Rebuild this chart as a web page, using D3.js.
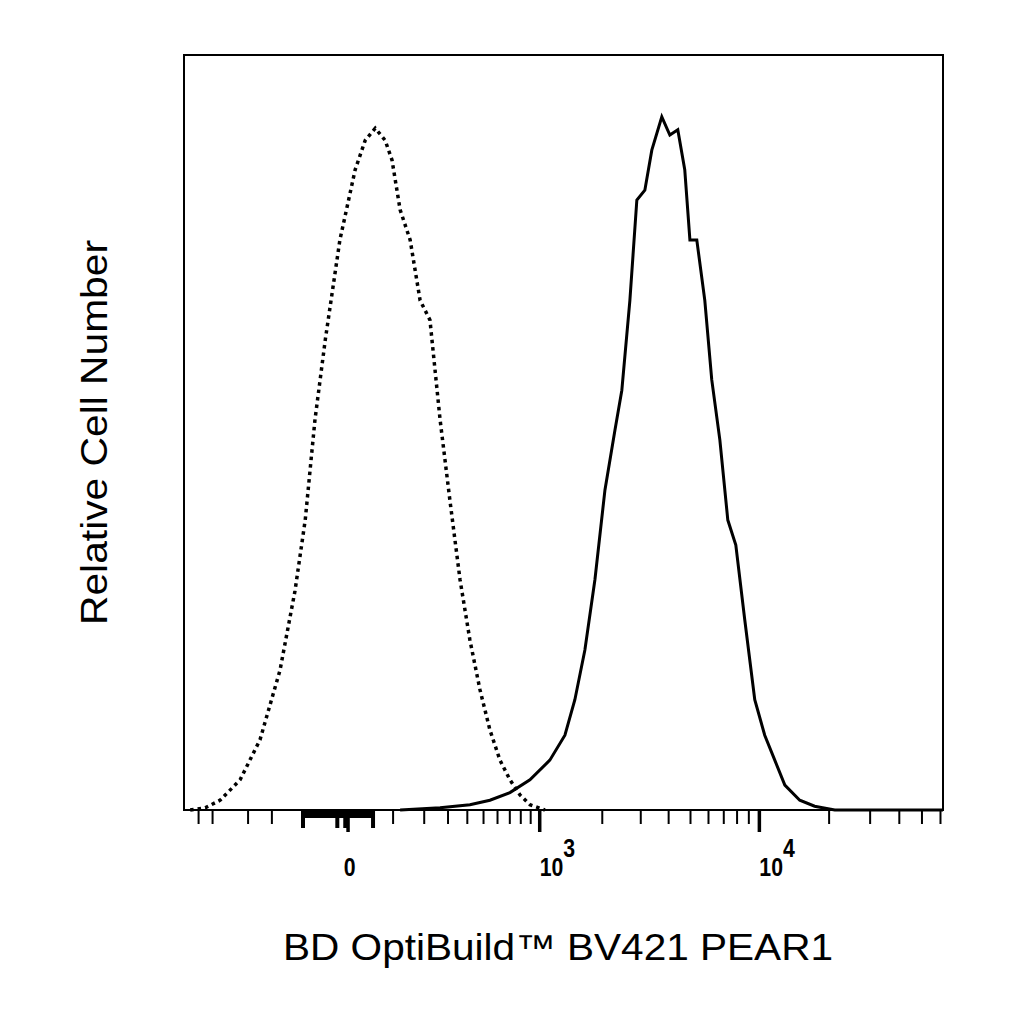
<!DOCTYPE html>
<html><head><meta charset="utf-8">
<script src="https://cdn.jsdelivr.net/npm/d3@7"></script>
<style>body{margin:0;background:#fff}</style>
</head><body><div id="chart"></div>
<script>
// fluorescence values (biexponential-like axis) and relative counts (0-100)
var isoX = [-667,-551,-451,-339,-247,-171,-123,-94,-69,-45,-15,13,33,55,79,97,120,151,185,222,264,309,360,415,477,544,619,701,792,892,1062];
var isoY = [0,0.3,1.3,4,9.3,18.5,29,38.4,51.7,62.3,75.5,84.8,88.7,90.3,88.7,86.1,79.5,75.5,67.5,64.9,51.7,41,30.5,22.5,15.9,10.6,6.6,4,2,0.7,0];
var stainX = [120,264,415,544,701,892,1123,1331,1486,1658,1848,2058,2288,2461,2678,2880,3130,3364,3729,4050,4393,4716,4970,5330,5780,6200,6730,7290,7900,8640,9550,10550,11660,12890,14950,17330,21150,61500];
var stainY = [0,0.3,0.7,1.3,2.3,4,6.6,9.9,14.6,21.2,30.5,42.4,50.3,55.6,67.5,80.8,82.1,87.4,91.8,89.4,90.1,84.8,75.5,75.5,67.5,57,49,38.4,35.1,25.2,14.6,9.9,6.6,3.3,1.3,0.5,0,0];
var majorTicks = [0, 1000, 10000];
var majorLabels = ["0", "10^3", "10^4"];
var minorTicks = [-600,-500,-300,-200,100,200,300,400,500,600,700,800,900,2000,3000,4000,5000,6000,7000,8000,9000,20000,30000,40000,50000,60000];

var W = 1024, H = 1024;
var pLeft = 184, pRight = 943, pTop = 55, pBottom = 810;

var x = d3.scaleSymlog().constant(180).domain([-720, 61500]).range([pLeft, pRight]);
var y = d3.scaleLinear().domain([0, 100]).range([pBottom, pTop]);

var svg = d3.select("#chart").append("svg").attr("width", W).attr("height", H);

var line = d3.line().x(function(d){ return x(d[0]); }).y(function(d){ return y(d[1]); });

svg.append("path").attr("d", line(d3.zip(isoX, isoY)))
  .attr("fill", "none").attr("stroke", "#000").attr("stroke-width", 3.5)
  .attr("stroke-dasharray", "3.5,4");
svg.append("path").attr("d", line(d3.zip(stainX, stainY)))
  .attr("fill", "none").attr("stroke", "#000").attr("stroke-width", 3);

svg.append("rect").attr("x", pLeft).attr("y", pTop).attr("width", pRight - pLeft).attr("height", pBottom - pTop)
  .attr("fill", "none").attr("stroke", "#000").attr("stroke-width", 2);

var ax = svg.append("g");
ax.selectAll(".mn").data(minorTicks).enter().append("line")
  .attr("x1", function(d){ return x(d); }).attr("x2", function(d){ return x(d); })
  .attr("y1", pBottom).attr("y2", pBottom + 14).attr("stroke", "#000").attr("stroke-width", 2);
ax.selectAll(".mj").data(majorTicks).enter().append("line")
  .attr("x1", function(d){ return x(d); }).attr("x2", function(d){ return x(d); })
  .attr("y1", pBottom).attr("y2", pBottom + 22).attr("stroke", "#000").attr("stroke-width", 3.5);
// dense tick cluster around zero
ax.append("rect").attr("x", x(-100)).attr("y", pBottom).attr("width", x(50) - x(-100)).attr("height", 8).attr("fill", "#000");
ax.selectAll(".z").data([-100,-20,-5,50]).enter().append("line")
  .attr("x1", function(d){ return x(d); }).attr("x2", function(d){ return x(d); })
  .attr("y1", pBottom).attr("y2", pBottom + 18).attr("stroke", "#000").attr("stroke-width", 4);

majorTicks.forEach(function(v, i){
  var p = majorLabels[i].split("^");
  var t = svg.append("text").attr("x", x(v) + (p[1] ? 0 : 2)).attr("y", 876).attr("text-anchor", p[1] ? "start" : "middle")
    .attr("font-family", "Liberation Sans Narrow, Arial Narrow, Liberation Sans, sans-serif")
    .attr("font-size", 25).attr("font-weight", "bold").attr("transform-origin", x(v) + "px 876px")
    .attr("transform", "scale(0.85,1)");
  t.append("tspan").text(p[0]);
  if (p[1]) t.append("tspan").attr("dy", -19).attr("font-size", 25).text(p[1]);
});

svg.append("text").attr("x", 283).attr("y", 960)
  .attr("font-family", "Liberation Sans, Arial, sans-serif").attr("font-size", 36)
  .attr("textLength", 550).attr("lengthAdjust", "spacingAndGlyphs")
  .text("BD OptiBuild™ BV421 PEAR1");
svg.append("text").attr("transform", "translate(107,625) rotate(-90)")
  .attr("font-family", "Liberation Sans, Arial, sans-serif").attr("font-size", 37)
  .attr("textLength", 385).attr("lengthAdjust", "spacingAndGlyphs")
  .text("Relative Cell Number");
</script></body></html>
